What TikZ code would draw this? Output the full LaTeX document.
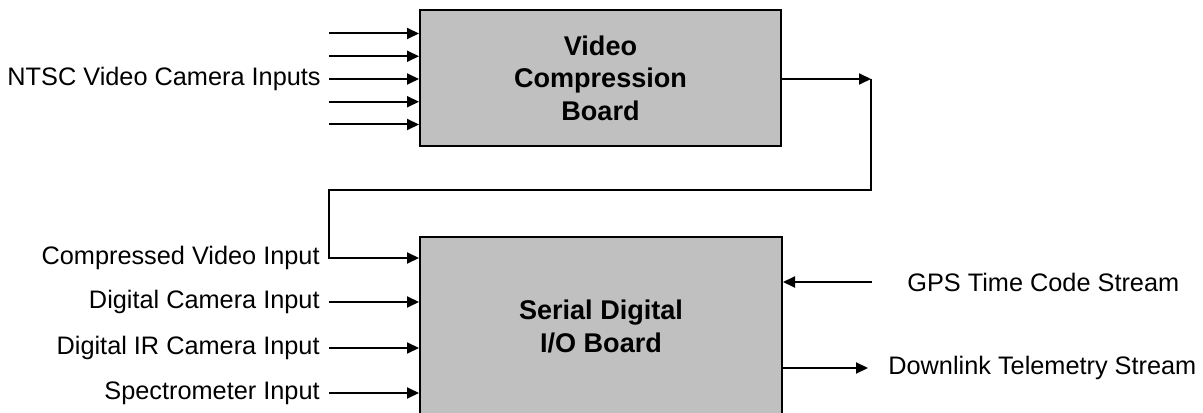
\documentclass[tikz,border=0pt]{standalone}
\usepackage{fontspec}
\setmainfont{Liberation Sans}
\usetikzlibrary{positioning}
\usetikzlibrary{arrows.meta}

\begin{document}
\begin{tikzpicture}
			\tikzstyle{arrow}=[draw, line width=0.04cm, -{Triangle[length=0.24cm,width=0.22cm]}]
			\tikzstyle{board}=[rectangle, draw, line width=0.04cm, fill={rgb,255:red,192;green,192;blue,192}, inner sep=0pt, align=center, font=\fontsize{15.4}{18.5}\selectfont\bfseries]
			\tikzstyle{label}=[inner sep=0pt, font=\fontsize{14.4}{16.5}\selectfont]
			\useasboundingbox (0, 0) rectangle (24.06, -8.26);

			\node[board, minimum width=7.22cm, minimum height=2.72cm] at (12.01, -1.56) (videoBoard) {Video\\Compression\\Board};
			\node[board, minimum width=7.24cm, minimum height=3.58cm] at (12.02, -6.53) (serialBoard) {Serial Digital\\I/O Board};

			% camera inputs
			\coordinate (ntscInOne) at (6.58, -0.67);
			\path[arrow] (ntscInOne) -- (ntscInOne -| videoBoard.west);
			\coordinate (ntscInTwo) at (6.58, -1.125);
			\path[arrow] (ntscInTwo) -- (ntscInTwo -| videoBoard.west);
			\coordinate (ntscInThree) at (6.58, -1.58);
			\path[arrow] (ntscInThree) -- (ntscInThree -| videoBoard.west);
			\coordinate (ntscInFour) at (6.58, -2.035);
			\path[arrow] (ntscInFour) -- (ntscInFour -| videoBoard.west);
			\coordinate (ntscInFive) at (6.58, -2.49);
			\path[arrow] (ntscInFive) -- (ntscInFive -| videoBoard.west);
			\node[label, left=0.16cm of ntscInThree] (ntscLabel) {NTSC Video Camera Inputs};

			% compressed video loop
			\coordinate (loopPointOne) at (17.42, -1.58);
			\path[arrow] (loopPointOne -| videoBoard.east) -- (loopPointOne);
			\coordinate (loopPointTwo) at (17.42, -3.8);
			\coordinate (loopPointThree) at (6.58, -3.8);
			\coordinate (compressedIn) at (6.58, -5.16);
			\path[arrow] (loopPointOne) -- (loopPointTwo) -- (loopPointThree) -- (compressedIn) -- (compressedIn -| serialBoard.west);
			\node[label, left=0.18cm of compressedIn] (compressedLabel) {Compressed Video Input};

			\coordinate (digitalCamIn) at (6.58, -6.04);
			\path[arrow] (digitalCamIn) -- (digitalCamIn -| serialBoard.west);
			\node[label, left=0.18cm of digitalCamIn] (digitalCamLabel) {Digital Camera Input};

			\coordinate (irCamIn) at (6.58, -6.96);
			\path[arrow] (irCamIn) -- (irCamIn -| serialBoard.west);
			\node[label, left=0.18cm of irCamIn] (irCamLabel) {Digital IR Camera Input};

			\coordinate (spectroIn) at (6.58, -7.86);
			\path[arrow] (spectroIn) -- (spectroIn -| serialBoard.west);
			\node[label, left=0.18cm of spectroIn] (spectroLabel) {Spectrometer Input};

			% streams
			\coordinate (gpsIn) at (17.44, -5.64);
			\path[arrow] (gpsIn) -- (gpsIn -| serialBoard.east);
			\node[label, right=0.7cm of gpsIn] (gpsLabel) {GPS Time Code Stream};

			\coordinate (downlinkOut) at (17.36, -7.36);
			\path[arrow] (downlinkOut -| serialBoard.east) -- (downlinkOut);
			\node[label, right=0.4cm of downlinkOut] (downlinkLabel) {Downlink Telemetry Stream};
		\end{tikzpicture}
\end{document}
